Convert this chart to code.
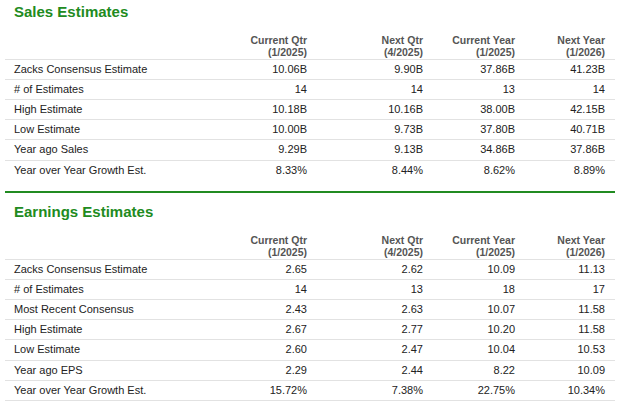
<!DOCTYPE html>
<html>
<head>
<meta charset="utf-8">
<script src="https://cdn.jsdelivr.net/npm/chart.js@4"></script>
<style>
body { margin: 0; width: 620px; height: 407px; background: #fff; font-family: "Liberation Sans", Arial, sans-serif; position: relative; overflow: hidden; }
.t { position: absolute; white-space: nowrap; font-size: 11px; color: #222; line-height: 12px; }
.h { position: absolute; left: 14px; font-size: 15px; font-weight: bold; color: #218b21; line-height: 18px; }
.hd { position: absolute; font-size: 10.5px; font-weight: bold; color: #555; text-align: right; line-height: 12px; white-space: nowrap; }
.ln { position: absolute; left: 5px; width: 610px; height: 1px; background: #e2e2e2; }
.g { position: absolute; left: 5px; width: 610px; height: 2px; background: #218b21; }
</style>
</head>
<body>
<script>
// Encabezados de columnas
const columnas = ["Current Qtr", "Next Qtr", "Current Year", "Next Year"];
const periodos = ["(1/2025)", "(4/2025)", "(1/2025)", "(1/2026)"];

// Tabla de ventas
const filasVentas = ["Zacks Consensus Estimate", "# of Estimates", "High Estimate", "Low Estimate", "Year ago Sales", "Year over Year Growth Est."];
const valoresVentas = [
    ["10.06B", "9.90B", "37.86B", "41.23B"],
    ["14", "14", "13", "14"],
    ["10.18B", "10.16B", "38.00B", "42.15B"],
    ["10.00B", "9.73B", "37.80B", "40.71B"],
    ["9.29B", "9.13B", "34.86B", "37.86B"],
    ["8.33%", "8.44%", "8.62%", "8.89%"]
];

// Tabla de ganancias
const filasGanancias = ["Zacks Consensus Estimate", "# of Estimates", "Most Recent Consensus", "High Estimate", "Low Estimate", "Year ago EPS", "Year over Year Growth Est."];
const valoresGanancias = [
    ["2.65", "2.62", "10.09", "11.13"],
    ["14", "13", "18", "17"],
    ["2.43", "2.63", "10.07", "11.58"],
    ["2.67", "2.77", "10.20", "11.58"],
    ["2.60", "2.47", "10.04", "10.53"],
    ["2.29", "2.44", "8.22", "10.09"],
    ["15.72%", "7.38%", "22.75%", "10.34%"]
];

const bordesDerechos = [307, 423, 515, 605];

function agregar(clase, texto, estilo) {
    const d = document.createElement("div");
    d.className = clase;
    if (texto !== null) d.textContent = texto;
    Object.assign(d.style, estilo);
    document.body.appendChild(d);
}

// Dibuja una seccion completa
function seccion(titulo, y0, filas, valores) {
    agregar("h", titulo, { top: (y0 - 9) + "px" });
    bordesDerechos.forEach((x, i) => {
        agregar("hd", columnas[i], { top: (y0 + 22) + "px", right: (620 - x) + "px" });
        agregar("hd", periodos[i], { top: (y0 + 34) + "px", right: (620 - x) + "px" });
    });
    filas.forEach((nombre, r) => {
        const yc = y0 + 57 + r * 20.1;
        agregar("ln", null, { top: Math.round(yc - 10) + "px" });
        agregar("t", nombre, { top: Math.round(yc - 6) + "px", left: "14px" });
        valores[r].forEach((v, c) => {
            agregar("t", v, { top: Math.round(yc - 6) + "px", right: (620 - bordesDerechos[c]) + "px" });
        });
    });
}

seccion("Sales Estimates", 12, filasVentas, valoresVentas);
agregar("g", null, { top: "191px" });
seccion("Earnings Estimates", 212, filasGanancias, valoresGanancias);
agregar("ln", null, { top: "400px" });
</script>
</body>
</html>
